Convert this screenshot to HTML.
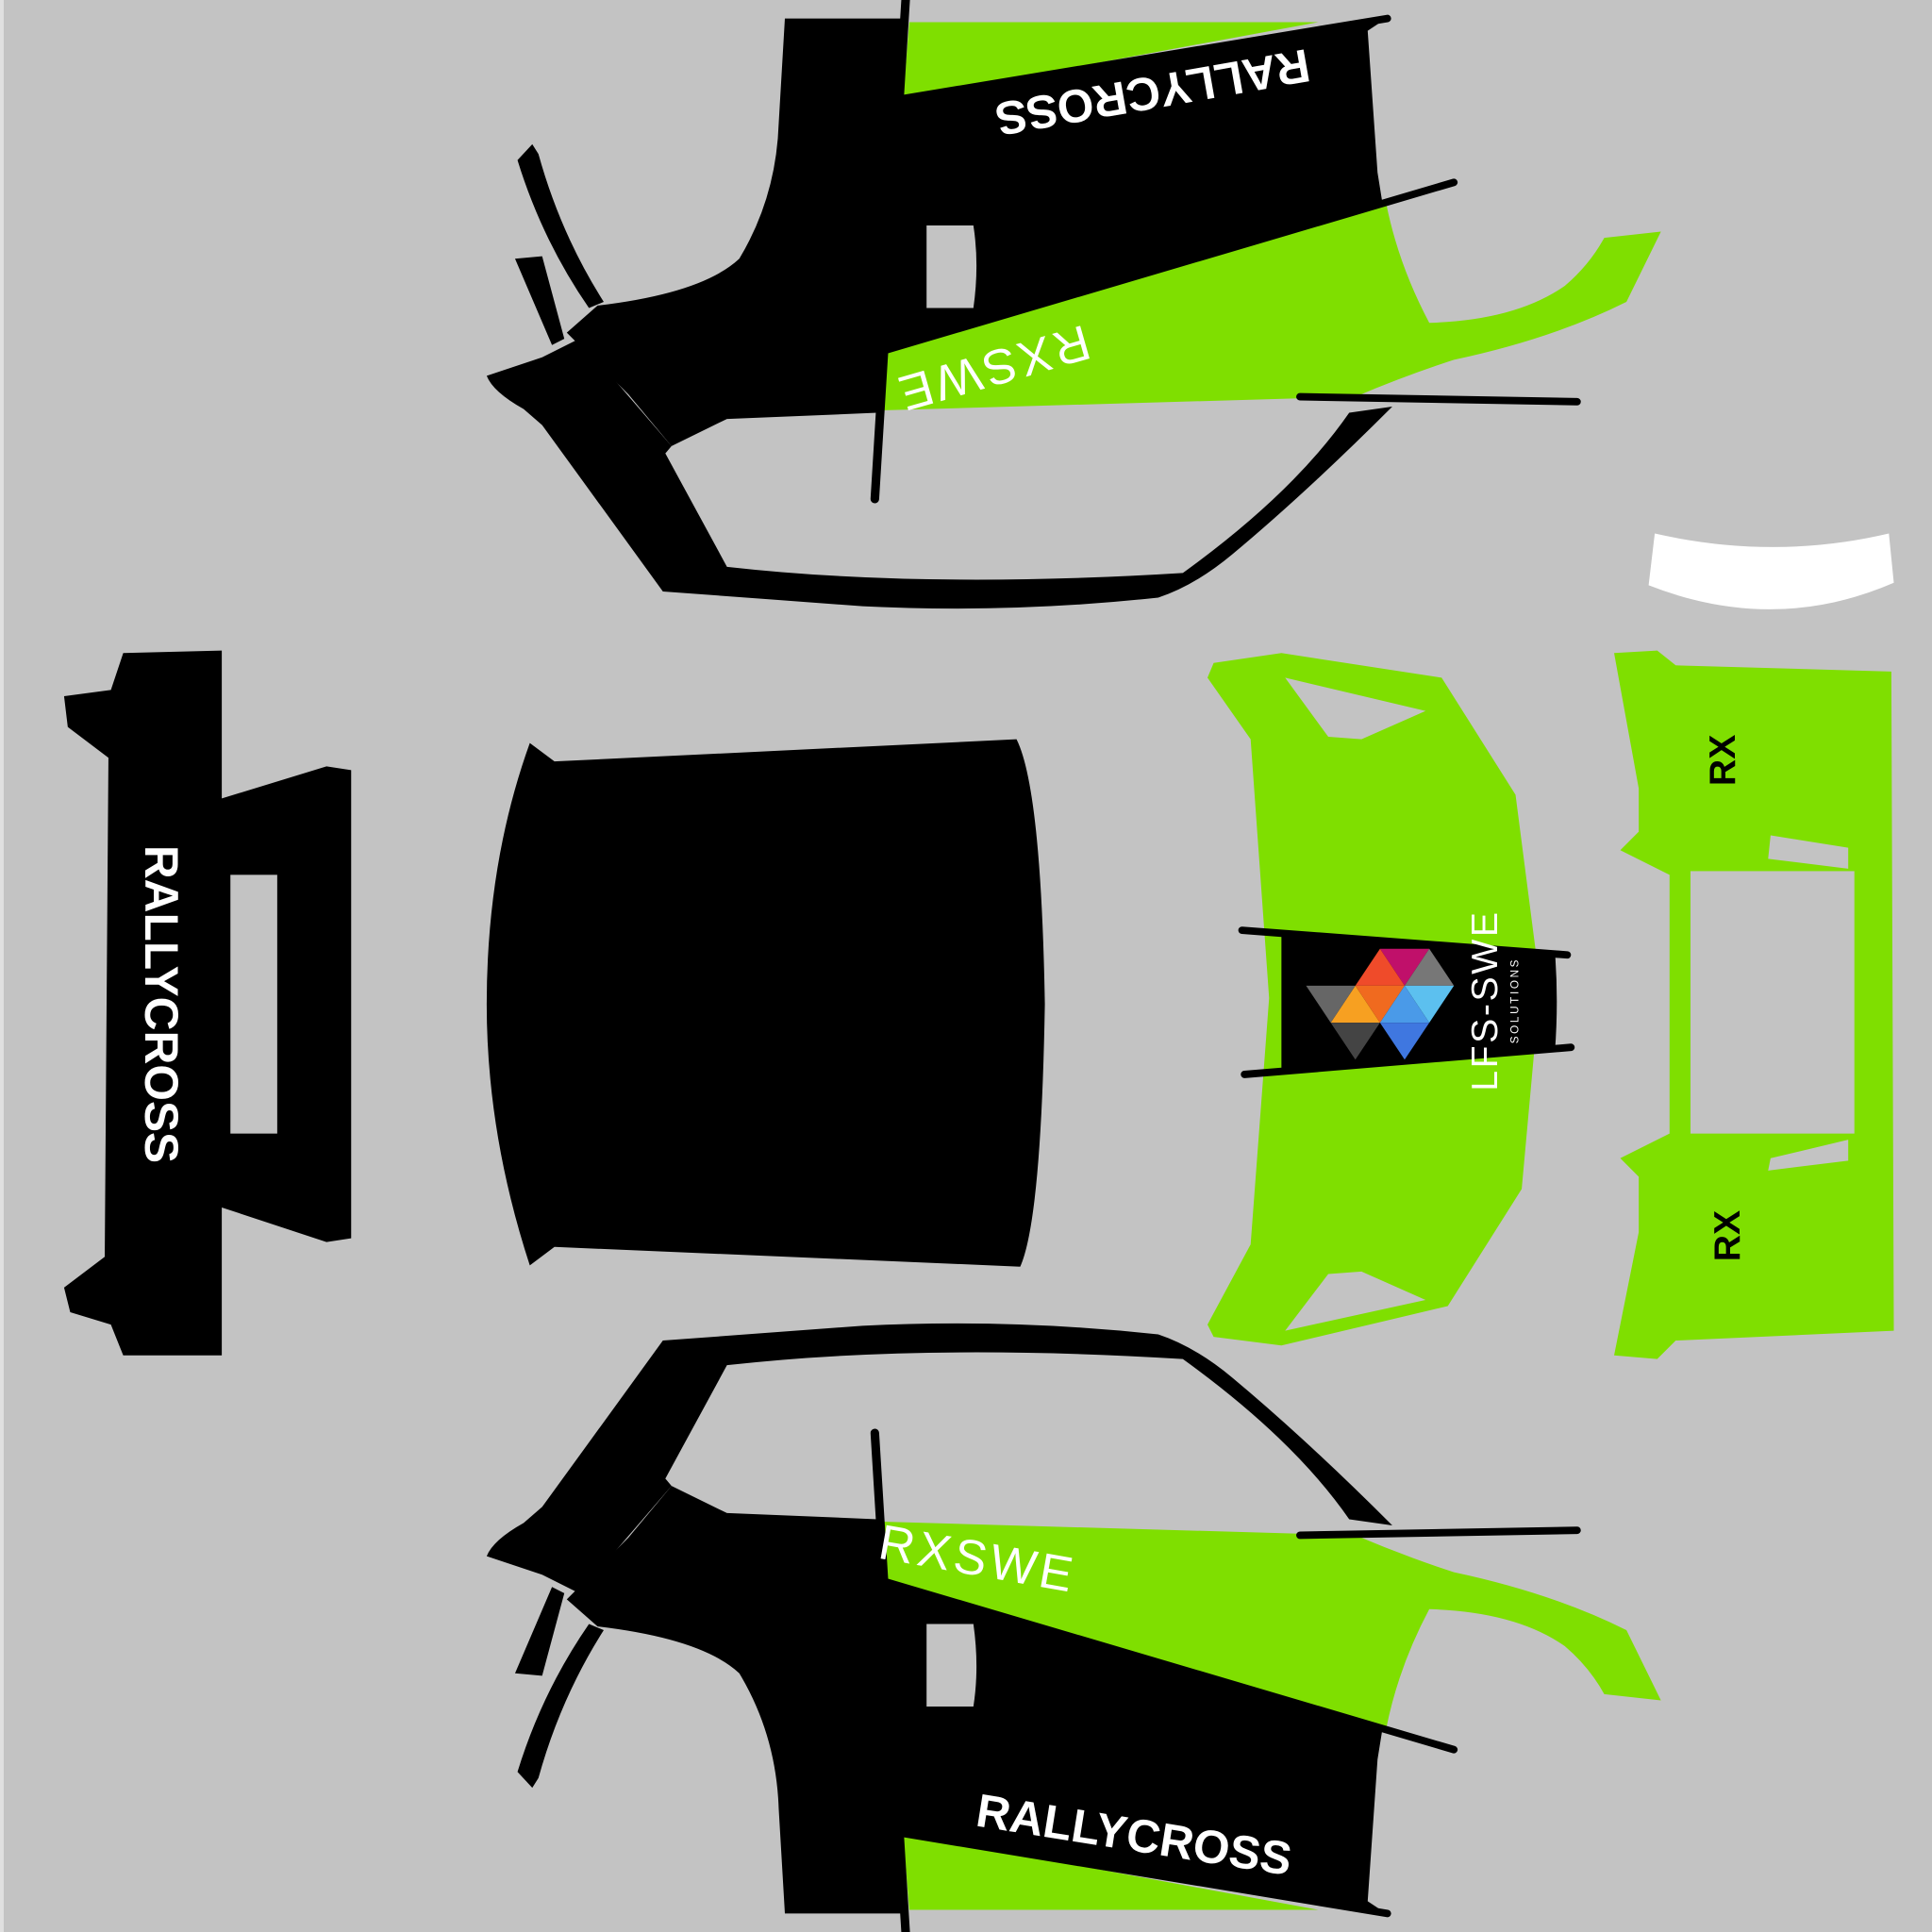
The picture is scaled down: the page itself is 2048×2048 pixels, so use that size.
<!DOCTYPE html>
<html><head><meta charset="utf-8"><style>
html,body{margin:0;padding:0;background:#c3c3c3}
svg{display:block}
text{font-family:"Liberation Sans",sans-serif;font-weight:bold}
</style></head><body>
<svg width="2048" height="2048" viewBox="0 0 1568 1568" xmlns="http://www.w3.org/2000/svg">
<rect width="1568" height="1568" fill="#c3c3c3"/>
<rect x="0" y="0" width="3" height="1568" fill="#e0e0e0"/>

<defs>
<g id="side">
  <path d="M1100,160 L1125,165 Q1135,215 1160,262 Q1230,260 1270,232 Q1290,215 1302,193 L1348,188 L1320,245 Q1260,275 1180,292 Q1140,305 1100,322 L715,333 L716,285 Z" fill="#7fdf00"/>
  <path d="M637,15 L735,15 L733,80 L1125,15 L1110,25 L1118,140 L1122,165 L716,285 L712,335 L590,340 L545,362 L510,320 L460,270 L485,248 Q570,238 600,210 Q630,160 632,100 Z" fill="#000"/>
  <path d="M738,18 L1070,18 L733,80 Z" fill="#7fdf00"/>
  <path d="M420,130 L432,117 L437,125 Q455,190 490,245 L478,250 Q440,195 420,130 Z" fill="#000"/>
  <path d="M418,210 L440,208 L458,275 L448,280 Z" fill="#000"/>
  <path d="M752,183 L790,183 Q795,215 790,250 L752,250 Z" fill="#c3c3c3"/>
  <path d="M395,305 L440,290 L470,275 L545,362 L540,368 L590,460 Q750,478 960,465 Q1050,400 1095,335 L1130,330 Q1060,400 1000,450 Q970,475 940,485 Q820,498 700,492 L538,480 L440,345 L425,332 Q400,318 395,305 Z" fill="#000"/>
  <line x1="735" y1="0" x2="710" y2="405" stroke="#000" stroke-width="7" stroke-linecap="round"/>
  <line x1="733" y1="80" x2="1126" y2="15" stroke="#000" stroke-width="6" stroke-linecap="round"/>
  <line x1="716" y1="285" x2="1180" y2="148" stroke="#000" stroke-width="6" stroke-linecap="round"/>
  <line x1="1055" y1="322" x2="1280" y2="326" stroke="#000" stroke-width="6" stroke-linecap="round"/>
</g>
</defs>

<use href="#side"/>
<use href="#side" transform="translate(0,1568) scale(1,-1)"/>

<text transform="translate(935,72) rotate(170)" font-size="38" fill="#fff" text-anchor="middle" dominant-baseline="middle">RALLYCROSS</text>
<text transform="translate(805,296) rotate(164)" font-size="40" fill="#fff" text-anchor="middle" dominant-baseline="middle" style="font-weight:normal;letter-spacing:3px">RXSWE</text>
<text transform="translate(920,1492) rotate(9)" font-size="38" fill="#fff" text-anchor="middle" dominant-baseline="middle">RALLYCROSS</text>
<text transform="translate(793,1268) rotate(10)" font-size="40" fill="#fff" text-anchor="middle" dominant-baseline="middle" style="font-weight:normal;letter-spacing:3px">RXSWE</text>

<path d="M100,530 L180,528 L180,648 L265,622 L285,625 L285,1005 L265,1008 L180,980 L180,1100 L100,1100 L90,1075 L57,1065 L52,1045 L85,1020 L88,615 L55,590 L52,565 L90,560 Z" fill="#000"/>
<rect x="187" y="710" width="38" height="210" fill="#c3c3c3"/>
<text transform="translate(128,815) rotate(90)" font-size="38" fill="#fff" text-anchor="middle" dominant-baseline="middle">RALLYCROSS</text>

<path d="M430,603 L450,618 L825,600 Q845,640 848,815 Q845,990 828,1028 L450,1012 L430,1027 Q395,920 395,815 Q395,700 430,603 Z" fill="#000"/>

<path d="M985,538 L1040,530 L1170,550 L1230,645 L1250,800 L1235,965 L1175,1060 L1040,1092 L985,1085 L980,1075 L1015,1010 L1030,810 L1015,600 L980,550 Z" fill="#7fdf00"/>
<path d="M1043,550 L1157,577 L1105,600 L1078,598 Z" fill="#c3c3c3"/>
<path d="M1043,1080 L1157,1055 L1105,1032 L1078,1034 Z" fill="#c3c3c3"/>
<path d="M1040,757 L1262,773 Q1265,812 1262,853 L1040,868 Z" fill="#000"/>
<line x1="1008" y1="755" x2="1272" y2="775" stroke="#000" stroke-width="6" stroke-linecap="round"/>
<line x1="1010" y1="872" x2="1275" y2="850" stroke="#000" stroke-width="6" stroke-linecap="round"/>
<polygon points="1120,770 1160,770 1140,800" fill="#c0106a"/>
<polygon points="1100,800 1140,800 1120,770" fill="#ef4b2a"/>
<polygon points="1080,830 1120,830 1100,800" fill="#f7a021"/>
<polygon points="1100,800 1120,830 1140,800" fill="#f06a1f"/>
<polygon points="1140,800 1180,800 1160,770" fill="#777"/>
<polygon points="1140,800 1160,830 1180,800" fill="#5cc0ef"/>
<polygon points="1120,830 1160,830 1140,800" fill="#4a9ae8"/>
<polygon points="1120,830 1140,860 1160,830" fill="#3f77e0"/>
<polygon points="1060,800 1100,800 1080,830" fill="#666"/>
<polygon points="1080,830 1120,830 1100,860" fill="#444"/>
<text transform="translate(1207,812) rotate(-90)" font-size="30" fill="#fff" text-anchor="middle" dominant-baseline="middle" style="font-weight:normal;letter-spacing:2px">LFS-SWE</text>
<text transform="translate(1230,812) rotate(-90)" font-size="9" fill="#fff" text-anchor="middle" dominant-baseline="middle" style="font-weight:normal;letter-spacing:2px">SOLUTIONS</text>

<path d="M1310,530 L1345,528 L1360,540 L1535,545 L1537,1080 L1360,1088 L1345,1103 L1310,1100 L1330,1000 L1330,955 L1315,940 L1355,920 L1355,710 L1315,690 L1330,675 L1330,640 Z" fill="#7fdf00"/>
<rect x="1372" y="707" width="133" height="213" fill="#c3c3c3"/>
<polygon points="1437,678 1500,688 1500,705 1435,697" fill="#c3c3c3"/>
<polygon points="1437,940 1500,925 1500,942 1435,950" fill="#c3c3c3"/>
<text transform="translate(1400,617) rotate(-90)" font-size="30" fill="#000" text-anchor="middle" dominant-baseline="middle">RX</text>
<text transform="translate(1404,1003) rotate(-90)" font-size="30" fill="#000" text-anchor="middle" dominant-baseline="middle">RX</text>

<path d="M1343,433 Q1440,455 1533,433 L1537,473 Q1440,515 1338,475 Z" fill="#fff"/>
</svg>
</body></html>
